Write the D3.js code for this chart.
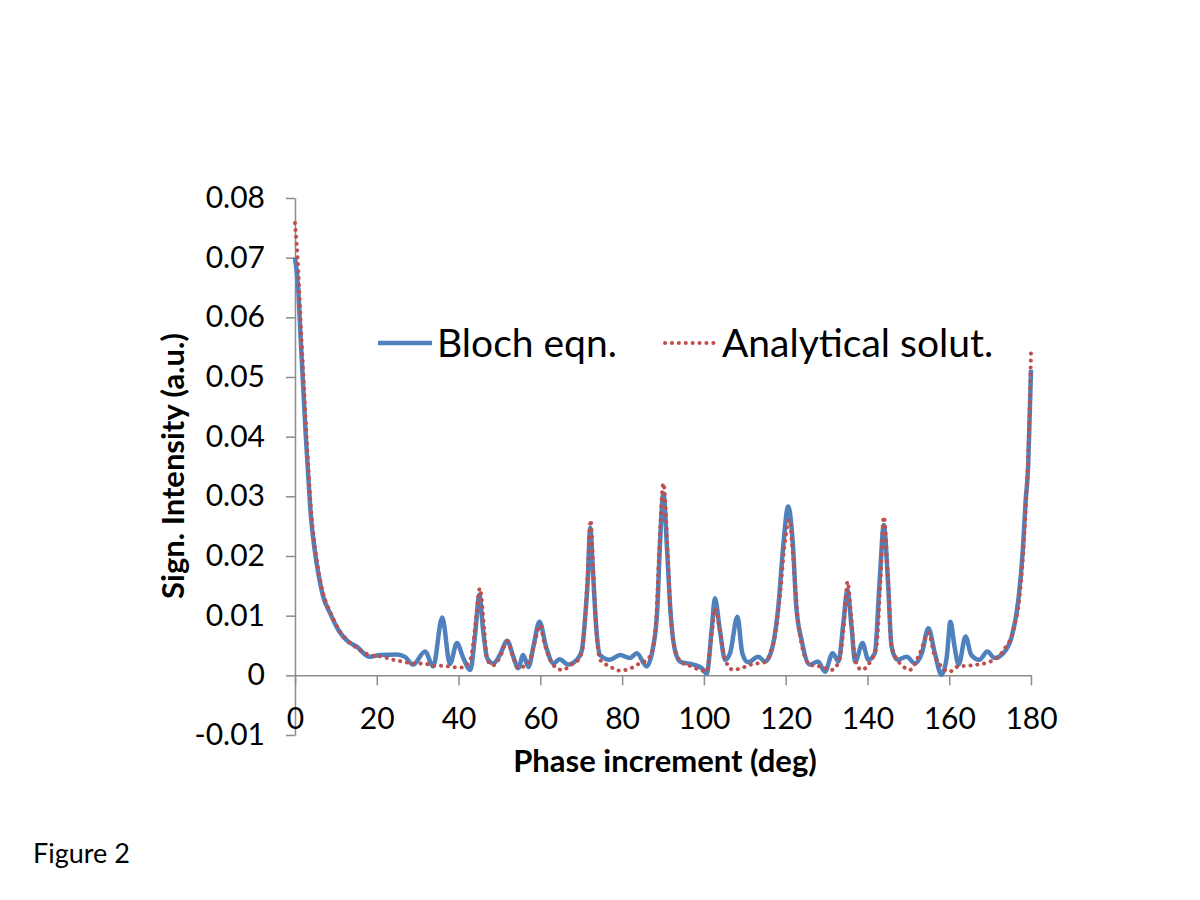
<!DOCTYPE html>
<html>
<head>
<meta charset="utf-8">
<script src="https://cdn.jsdelivr.net/npm/d3@7"></script>
<style>
  body { margin: 0; background: #fff; }
  svg { font-family: Lato, "Open Sans", sans-serif; }
</style>
</head>
<body>
<script>
// phase increment (deg) and signal for the Bloch equation simulation
var blochPhase = [0, 0.8, 1.4, 2.0, 2.6, 3.3, 3.9, 4.7, 5.7, 6.9, 8.6, 10.6, 12.6, 15.1, 18.3, 20.8, 24.9, 26.9, 28.9,
  31.8, 33.8, 36.0, 37.9, 39.6, 41.1, 42.9, 44.0, 45.1, 46.0, 47.0, 48.5, 50.1, 51.9, 53.4, 54.6, 55.8, 57.1, 58.3,
  59.8, 61.4, 63.2, 64.7, 66.8, 68.9, 70.1, 71.0, 71.6, 72.2, 72.9, 73.6, 74.6, 77.0, 79.5, 81.9, 83.6, 86.0, 87.6,
  88.6, 89.2, 90.1, 91.0, 91.8, 92.9, 94.2, 97.4, 99.5, 100.7, 101.9, 102.7, 103.9, 105.2, 106.4, 108.2, 109.4,
  110.8, 113.3, 115.0, 116.6, 118.2, 119.4, 120.6, 121.8, 122.6, 123.9, 125.9, 127.9, 129.6, 131.5, 132.9, 134.1,
  135.1, 136.1, 137.0, 138.8, 140.2, 141.8, 143.0, 144.0, 145.0, 145.9, 147.3, 149.6, 151.6, 153.3, 154.9, 156.5,
  158.1, 159.4, 160.3, 161.3, 162.3, 164.0, 165.4, 167.4, 169.3, 171.1, 173.2, 175.3, 176.9, 178.0, 178.7, 179.3,
  179.7, 180];
var blochSignal = [0.0700, 0.0646, 0.0562, 0.0484, 0.0406, 0.0327, 0.0266, 0.0216, 0.0171, 0.0132, 0.0104, 0.0076,
  0.0059, 0.0048, 0.0031, 0.0034, 0.0035, 0.0031, 0.0018, 0.0040, 0.0015, 0.0097, 0.0019, 0.0054, 0.0030, 0.0009,
  0.0065, 0.0135, 0.0076, 0.0029, 0.0020, 0.0034, 0.0058, 0.0031, 0.0012, 0.0034, 0.0014, 0.0048, 0.0090, 0.0048,
  0.0020, 0.0027, 0.0018, 0.0026, 0.0040, 0.0100, 0.0160, 0.0247, 0.0170, 0.0087, 0.0034, 0.0026, 0.0034, 0.0029,
  0.0037, 0.0015, 0.0048, 0.0110, 0.0210, 0.0305, 0.0210, 0.0110, 0.0043, 0.0023, 0.0018, 0.0012, 0.0003, 0.0076,
  0.0129, 0.0076, 0.0026, 0.0037, 0.0098, 0.0037, 0.0022, 0.0031, 0.0023, 0.0043, 0.0115, 0.0216, 0.0283, 0.0216,
  0.0115, 0.0059, 0.0018, 0.0023, 0.0006, 0.0037, 0.0023, 0.0087, 0.0143, 0.0082, 0.0023, 0.0054, 0.0026, 0.0037,
  0.0160, 0.0252, 0.0160, 0.0048, 0.0026, 0.0031, 0.0020, 0.0037, 0.0079, 0.0037, 0.0001, 0.0031, 0.0090, 0.0048,
  0.0018, 0.0065, 0.0034, 0.0026, 0.0040, 0.0029, 0.0037, 0.0065, 0.0126, 0.0210, 0.0294, 0.0350, 0.0440, 0.0512];

// phase increment (deg) and signal for the analytical solution
var analyticPhase = [0, 0.8, 1.4, 2.0, 2.6, 3.3, 3.9, 4.7, 5.7, 6.9, 8.6, 10.6, 12.6, 15.1, 18.3, 21.5, 24.0, 26.4,
  29.0, 31.5, 33.8, 36.2, 38.4, 40.6, 42.7, 43.6, 44.4, 45.2, 46.3, 47.0, 48.5, 50.1, 51.9, 53.4, 54.6, 55.9, 57.5,
  59.1, 59.9, 61.0, 63.2, 65.4, 67.6, 69.6, 70.4, 71.1, 71.6, 72.3, 73.0, 73.6, 74.6, 77.0, 79.2, 81.5, 83.7, 86.0,
  87.2, 88.3, 89.0, 90.1, 91.2, 91.9, 92.9, 94.9, 97.0, 99.0, 100.7, 101.9, 102.8, 103.9, 105.2, 107.2, 109.5, 112.0,
  114.5, 117.0, 118.6, 119.7, 120.9, 121.8, 123.0, 124.2, 125.9, 128.4, 131.2, 133.0, 134.5, 135.1, 136.1, 137.0,
  138.6, 140.2, 142.2, 143.2, 144.0, 145.0, 145.9, 147.1, 148.3, 150.3, 152.8, 154.9, 156.5, 157.7, 160.0, 162.2,
  164.6, 166.9, 169.1, 171.6, 173.6, 175.7, 177.3, 178.3, 179.0, 179.6, 180];
var analyticSignal = [0.0758, 0.0680, 0.0590, 0.0510, 0.0430, 0.0345, 0.0280, 0.0225, 0.0177, 0.0137, 0.0106,
  0.0078, 0.0060, 0.0046, 0.0034, 0.0031, 0.0026, 0.0023, 0.0020, 0.0020, 0.0016, 0.0016, 0.0014, 0.0013, 0.0023,
  0.0054, 0.0104, 0.0146, 0.0076, 0.0026, 0.0017, 0.0030, 0.0057, 0.0029, 0.0012, 0.0015, 0.0026, 0.0068, 0.0084,
  0.0054, 0.0017, 0.0009, 0.0018, 0.0029, 0.0048, 0.0110, 0.0175, 0.0260, 0.0170, 0.0087, 0.0026, 0.0015, 0.0008,
  0.0010, 0.0018, 0.0026, 0.0037, 0.0090, 0.0200, 0.0322, 0.0200, 0.0100, 0.0043, 0.0020, 0.0015, 0.0009, 0.0007,
  0.0068, 0.0112, 0.0076, 0.0026, 0.0009, 0.0013, 0.0019, 0.0021, 0.0054, 0.0132, 0.0216, 0.0261, 0.0199, 0.0093,
  0.0043, 0.0018, 0.0015, 0.0009, 0.0023, 0.0104, 0.0157, 0.0093, 0.0026, 0.0009, 0.0018, 0.0048, 0.0160, 0.0266,
  0.0171, 0.0050, 0.0028, 0.0018, 0.0009, 0.0037, 0.0071, 0.0031, 0.0018, 0.0006, 0.0015, 0.0016, 0.0018, 0.0021,
  0.0029, 0.0045, 0.0076, 0.0138, 0.0227, 0.0320, 0.0430, 0.0542];

var xTicks = [0, 20, 40, 60, 80, 100, 120, 140, 160, 180];
var yTicks = [-0.01, 0, 0.01, 0.02, 0.03, 0.04, 0.05, 0.06, 0.07, 0.08];
var seriesNames = ["Bloch eqn.", "Analytical solut."];

var width = 1200,
    height = 900;

var svg = d3.select("body")
      .append("svg")
      .attr("width", width)
      .attr("height", height);

var x = d3.scaleLinear().domain([0, 180]).range([295, 1031]);
var y = d3.scaleLinear().domain([-0.01, 0.08]).range([735, 198]);

var axisColor = "#8c8c8c";

//y axis
var yAxis = svg.append("g")
      .attr("transform", "translate(" + x(0) + ",0)")
      .call(d3.axisLeft(y)
        .tickValues(yTicks)
        .tickSize(9)
        .tickSizeOuter(0)
        .tickPadding(21)
        .tickFormat(function(d) { return d === 0 ? "0" : d.toFixed(2); }));

//x axis, crossing at zero
var xAxis = svg.append("g")
      .attr("transform", "translate(0," + y(0) + ")")
      .call(d3.axisBottom(x)
        .tickValues(xTicks)
        .tickSize(10)
        .tickSizeOuter(0)
        .tickPadding(22));

[yAxis, xAxis].forEach(function(g) {
  g.selectAll("path, line").attr("stroke", axisColor).attr("stroke-width", 1.5);
  g.selectAll("text")
    .attr("fill", "#000")
    .style("font-family", "Lato, 'Open Sans', sans-serif")
    .style("font-size", "30px");
});

//lines
var line = d3.line()
      .x(function(d) { return x(d[0]); })
      .y(function(d) { return y(d[1]); })
      .curve(d3.curveMonotoneX);

var blochData = blochPhase.map(function(p, i) { return [p, blochSignal[i]]; });
var analyticData = analyticPhase.map(function(p, i) { return [p, analyticSignal[i]]; });

svg.append("path")
  .datum(blochData)
  .attr("fill", "none")
  .attr("stroke", "#4f81bd")
  .attr("stroke-width", 4.5)
  .attr("stroke-linejoin", "round")
  .attr("d", line);

svg.append("path")
  .datum(analyticData)
  .attr("fill", "none")
  .attr("stroke", "#c0504d")
  .attr("stroke-width", 4)
  .attr("stroke-linecap", "round")
  .attr("stroke-dasharray", "0.1 6.8")
  .attr("d", line);

//legend
var legend = svg.append("g").style("font-size", "39px");
legend.append("line")
  .attr("x1", 378).attr("x2", 432).attr("y1", 343).attr("y2", 343)
  .attr("stroke", "#4f81bd").attr("stroke-width", 4.5);
legend.append("text").attr("x", 437).attr("y", 357).text(seriesNames[0]);
legend.append("line")
  .attr("x1", 665).attr("x2", 717).attr("y1", 343).attr("y2", 343)
  .attr("stroke", "#c0504d").attr("stroke-width", 4)
  .attr("stroke-linecap", "round").attr("stroke-dasharray", "0.1 6.8");
legend.append("text").attr("x", 722).attr("y", 357).text(seriesNames[1]);

//axis titles
svg.append("text")
  .attr("x", 665).attr("y", 772)
  .attr("text-anchor", "middle")
  .style("font-size", "31px").style("font-weight", "bold")
  .text("Phase increment (deg)");

svg.append("text")
  .attr("transform", "translate(184,466) rotate(-90)")
  .attr("text-anchor", "middle")
  .style("font-size", "31px").style("font-weight", "bold")
  .text("Sign. Intensity (a.u.)");

svg.append("text")
  .attr("x", 33).attr("y", 863)
  .style("font-size", "27px")
  .text("Figure 2");
</script>
</body>
</html>
